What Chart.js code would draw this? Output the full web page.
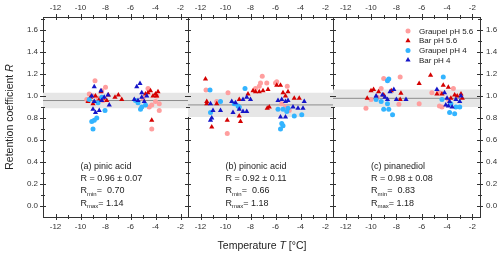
<!DOCTYPE html>
<html>
<head>
<meta charset="utf-8">
<script src="https://cdn.jsdelivr.net/npm/chart.js@4.4.1/dist/chart.umd.min.js"></script>
<style>
  html, body { margin: 0; padding: 0; background: #fff; }
  #wrap { position: relative; width: 500px; height: 258px; }
  #wrap canvas { position: absolute; left: 0; top: 0; }
</style>
</head>
<body>
<div id="wrap">
  <canvas id="c0" width="500" height="258"></canvas>
  <canvas id="c1" width="500" height="258"></canvas>
  <canvas id="c2" width="500" height="258"></canvas>
</div>
<script>
// panel info
const panelNames = ["(a) pinic acid", "(b) pinonic acid", "(c) pinanediol"];
const meanR = [0.96, 0.92, 0.98];
const sdR = [0.07, 0.11, 0.08];
const minR = ["0.70", "0.66", "0.83"];
const maxR = ["1.14", "1.18", "1.18"];
const seriesLabels = ["Graupel pH 5.6", "Bar pH 5.6", "Graupel pH 4", "Bar pH 4"];
const xTicks = [-12, -10, -8, -6, -4, -2];
const yTicks = [0, 0.2, 0.4, 0.6, 0.8, 1.0, 1.2, 1.4, 1.6];

// [T, R]
const pinicGraupel56 = [[-8.84,1.14],[-8.0,1.08],[-9.3,1.02],[-9.0,1.0],[-8.6,0.98],[-8.2,0.96],[-9.5,0.97],[-8.3,1.05],
  [-4.6,1.07],[-4.3,0.92],[-4.0,0.95],[-3.7,0.93],[-3.7,0.87],[-4.5,0.90],[-4.3,0.70],[-5.0,0.98],[-3.9,1.0]];
const pinicBar56 = [[-9.4,0.95],[-9.2,0.99],[-8.8,1.0],[-8.5,0.97],[-8.2,0.98],[-7.77,1.01],[-7.9,0.96],[-8.36,1.04],[-9.0,0.93],
  [-7.24,0.99],[-6.97,1.01],[-6.7,0.97],[-4.6,1.03],[-4.4,1.05],[-4.2,1.0],[-4.0,1.02],[-3.8,1.04],[-3.9,1.0],[-4.3,0.78],[-4.8,1.02]];
const pinicGraupel4 = [[-9.1,0.77],[-8.9,0.78],[-8.7,0.80],[-9.0,0.70],[-8.04,0.87],[-8.6,0.94],[-9.3,0.97],[-8.3,0.99],
  [-5.4,0.94],[-5.1,0.90],[-4.8,0.92],[-5.2,0.88],[-5.6,0.96]];
const pinicBar4 = [[-8.9,1.085],[-8.36,1.05],[-8.9,0.95],[-8.1,0.99],[-7.8,1.01],[-7.7,0.92],[-9.0,0.88],[-8.8,0.85],[-8.5,0.87],
  [-9.1,1.0],[-8.3,0.96],[-5.24,1.115],[-5.5,1.085],[-5.1,1.03],[-4.7,1.0],[-5.7,0.97],[-5.4,0.96],[-5.1,0.99],[-4.9,0.95]];

const pinonicGraupel56 = [[-11.56,1.055],[-10.7,0.95],[-9.8,1.03],[-9.86,0.66],[-7.06,1.18],[-6.7,1.12],[-6.0,1.12],[-5.9,1.13],
  [-5.06,1.09],[-7.6,1.07],[-7.3,1.09],[-7.2,1.12],[-5.2,0.90],[-4.9,0.87],[-5.5,0.93]];
const pinonicBar56 = [[-11.6,1.155],[-11.5,0.95],[-11.5,0.93],[-10.7,0.93],[-11.1,0.72],[-9.86,0.78],[-8.8,0.77],[-8.9,0.82],
  [-8.2,1.02],[-7.8,1.05],[-7.6,1.04],[-7.3,1.04],[-7.0,1.05],[-6.6,1.06],[-5.9,1.1],[-5.6,1.1],[-6.5,0.90],[-6.66,0.89],
  [-5.4,1.03],[-5.0,1.04],[-4.5,0.98],[-4.1,0.98],[-5.2,1.0],[-8.9,0.97]];
const pinonicGraupel4 = [[-11.24,1.055],[-10.4,0.95],[-11.2,0.85],[-9.3,0.93],[-9.0,0.91],[-8.44,1.07],[-8.9,0.90],[-5.8,0.88],
  [-5.4,0.88],[-5.0,0.89],[-4.5,0.82],[-3.9,0.83],[-5.6,0.70],[-5.5,0.75],[-5.4,0.73],[-5.1,0.86]];
const pinonicBar4 = [[-11.2,0.93],[-11.0,0.87],[-10.4,0.87],[-9.5,0.95],[-8.3,0.99],[-8.6,0.97],[-9.4,0.85],[-8.9,0.88],
  [-8.6,0.86],[-8.3,0.86],[-11.2,0.78],[-11.1,0.80],[-8.0,0.97],[-5.8,0.96],[-5.5,0.97],[-5.2,0.95],[-5.0,0.96],[-4.6,0.90],
  [-4.2,0.89],[-3.7,0.95],[-3.8,0.89],[-5.6,0.81],[-5.2,0.81],[-9.2,0.94]];

const pinanGraupel56 = [[-9.0,1.16],[-7.7,1.175],[-10.4,0.89],[-10.0,0.97],[-9.5,0.99],[-7.8,0.925],[-6.2,0.93],[-5.2,1.03],
  [-4.6,1.03],[-3.5,1.07],[-4.6,0.91],[-4.4,0.90],[-3.9,0.97],[-9.2,1.07]];
const pinanBar56 = [[-10.0,1.05],[-9.8,1.06],[-10.3,0.98],[-9.4,1.04],[-9.0,1.01],[-8.4,1.05],[-7.64,1.025],[-7.7,0.97],
  [-6.2,1.115],[-5.3,1.19],[-4.3,1.1],[-3.9,1.08],[-4.8,1.02],[-4.4,1.02],[-3.4,1.01],[-3.2,1.0],[-2.9,1.02],[-3.7,0.98],
  [-9.6,0.99],[-2.8,0.98]];
const pinanGraupel4 = [[-8.7,1.14],[-8.6,1.155],[-9.6,0.97],[-9.2,0.95],[-8.7,0.93],[-9.0,0.88],[-8.6,0.88],[-8.3,0.83],
  [-4.3,1.175],[-3.7,0.93],[-3.3,0.90],[-3.8,0.85],[-3.4,0.84],[-3.0,0.90],[-4.4,0.97]];
const pinanBar4 = [[-9.6,1.0],[-9.1,1.01],[-8.5,1.04],[-8.2,1.06],[-8.7,0.97],[-8.0,0.97],[-7.24,0.97],[-8.9,0.99],
  [-4.8,1.06],[-4.2,1.03],[-4.0,0.98],[-3.8,0.95],[-3.3,0.97],[-3.0,0.95],[-3.9,0.91],[-3.6,0.90],[-4.1,0.92],[-2.9,1.0]];

const panelData = [
  [pinicGraupel56, pinicBar56, pinicGraupel4, pinicBar4],
  [pinonicGraupel56, pinonicBar56, pinonicGraupel4, pinonicBar4],
  [pinanGraupel56, pinanBar56, pinanGraupel4, pinanBar4]
];

const X_MIN = -13, X_MAX = -1.4, Y_MIN = -0.1, Y_MAX = 1.72;

// looks
const AX = "#333";
const FONT = "'Liberation Sans', Arial, sans-serif";
const colors = ["#ff9e9e", "#d40000", "#33b4ff", "#1515c8"];
const styles = ["circle", "triangle", "circle", "triangle"];
const radii = [2.5, 3, 2.5, 3];
const pads = [
  { left: 0, right: 312, top: 0, bottom: 0 },
  { left: 188, right: 167, top: 0, bottom: 0 },
  { left: 333, right: 0, top: 0, bottom: 0 }
];

function richWidth(ctx, parts) {
  let w = 0;
  for (const p of parts) { ctx.font = p[1]; w += ctx.measureText(p[0]).width; }
  return w;
}
function drawRich(ctx, parts, x, y) {
  let cx = x;
  for (const p of parts) {
    ctx.font = p[1];
    ctx.fillText(p[0], cx, y + (p[2] || 0));
    cx += ctx.measureText(p[0]).width;
  }
}

const frameTicks = {
  id: "frameTicks",
  afterDraw(chart) {
    const ctx = chart.ctx, a = chart.chartArea, sc = chart.scales;
    ctx.save();
    ctx.strokeStyle = AX;
    ctx.lineWidth = 1;
    ctx.beginPath();
    for (let v = -12; v <= -2; v++) {
      const len = v % 2 === 0 ? 3 : 2;
      const px = Math.round(sc.x.getPixelForValue(v)) + 0.5;
      ctx.moveTo(px, a.bottom - len); ctx.lineTo(px, a.bottom + len);
      ctx.moveTo(px, a.top - len); ctx.lineTo(px, a.top + len);
    }
    for (let k = 0; k <= 17; k++) {
      const len = k % 2 === 0 ? 3 : 2;
      const py = Math.round(sc.y.getPixelForValue(k / 10)) + 0.5;
      ctx.moveTo(a.left - len, py); ctx.lineTo(a.left + len, py);
      ctx.moveTo(a.right - len, py); ctx.lineTo(a.right + len, py);
    }
    ctx.stroke();
    ctx.restore();
  }
};

const textLayer = {
  id: "textLayer",
  afterDraw(chart) {
    const i = chart.options.plugins.textLayer.panel;
    const ctx = chart.ctx, a = chart.chartArea, sc = chart.scales;
    const f9 = "9px " + FONT, f6 = "6px " + FONT;
    ctx.save();
    ctx.fillStyle = "#222";
    ctx.textBaseline = "alphabetic";
    ctx.textAlign = "left";
    const tx = sc.x.getPixelForValue(-10);
    const y0 = 169;
    drawRich(ctx, [[panelNames[i], f9]], tx, y0);
    drawRich(ctx, [["R = " + meanR[i].toFixed(2) + " \u00b1 " + sdR[i].toFixed(2), f9]], tx, y0 + 12.2);
    drawRich(ctx, [["R", f9], ["min", f6, 2.5], ["=  " + minR[i], f9]], tx, y0 + 24.4);
    drawRich(ctx, [["R", f9], ["max", f6, 2.5], ["= " + maxR[i], f9]], tx, y0 + 36.6);

    if (i === 2) {
      const lx = a.left + 75, ly = 31;
      ctx.textBaseline = "middle";
      for (let s = 0; s < 4; s++) {
        const yy = ly + s * 9.7;
        ctx.fillStyle = colors[s];
        Chart.helpers.drawPoint(ctx, { pointStyle: styles[s], radius: radii[s], rotation: 0, borderWidth: 0 }, lx, yy);
        ctx.fillStyle = "#222";
        ctx.font = "8px " + FONT;
        ctx.fillText(seriesLabels[s], lx + 11, yy + 0.5);
      }
    }

    if (i === 0) {
      const f11 = "10.5px " + FONT, f11i = "italic 10.5px " + FONT;
      // y title
      const yParts = [["Retention coefficient ", f11], ["R", f11i]];
      ctx.save();
      ctx.translate(10, (a.top + a.bottom) / 2);
      ctx.rotate(-Math.PI / 2);
      ctx.textBaseline = "middle";
      drawRich(ctx, yParts, -richWidth(ctx, yParts) / 2, 0);
      ctx.restore();
      // x title
      const xParts = [["Temperature ", f11], ["T", f11i], [" [\u00b0C]", f11]];
      ctx.textBaseline = "middle";
      drawRich(ctx, xParts, 262 - richWidth(ctx, xParts) / 2, 246);
    }
    ctx.restore();
  }
};

function xAxis(pos, h, pad) {
  return {
    type: "linear", position: pos, min: X_MIN, max: X_MAX,
    afterBuildTicks: s => { s.ticks = xTicks.map(v => ({ value: v })); },
    afterFit: s => { s.height = h; },
    grid: { display: false, drawTicks: false },
    border: { display: true, color: AX, width: 1 },
    ticks: { color: "#333", font: { size: 8, family: FONT }, padding: pad, maxRotation: 0, autoSkip: false,
      callback: v => String(v) }
  };
}
function yAxis(pos, w, show, pad) {
  return {
    type: "linear", position: pos, min: Y_MIN, max: Y_MAX,
    afterBuildTicks: s => { s.ticks = yTicks.map(v => ({ value: v })); },
    afterFit: s => { s.width = w; },
    grid: { display: false, drawTicks: false },
    border: { display: true, color: AX, width: 1 },
    ticks: { display: show, color: "#333", font: { size: 8, family: FONT }, padding: pad, autoSkip: false,
      callback: v => v.toFixed(1) }
  };
}

function makeChart(i) {
  const m = meanR[i], s = sdR[i];
  const datasets = panelData[i].map((arr, k) => ({
    label: seriesLabels[k],
    data: arr.map(([x, y]) => ({ x, y })),
    pointStyle: styles[k],
    pointRadius: radii[k],
    backgroundColor: colors[k],
    borderColor: colors[k],
    borderWidth: 0,
    order: 4 - k
  }));
  datasets.push({
    type: "line", data: [{ x: X_MIN, y: m + s }, { x: X_MAX, y: m + s }],
    borderWidth: 0, pointRadius: 0, fill: { value: m - s }, backgroundColor: "#e6e6e6", order: 10
  });
  datasets.push({
    type: "line", data: [{ x: X_MIN, y: m }, { x: X_MAX, y: m }],
    borderColor: "#8c8c8c", borderWidth: 1, pointRadius: 0, fill: false, order: 9
  });

  new Chart(document.getElementById("c" + i), {
    type: "scatter",
    data: { datasets },
    options: {
      responsive: false,
      animation: false,
      events: [],
      layout: { padding: pads[i] },
      scales: {
        x: xAxis("bottom", 41, 5),
        xt: xAxis("top", 17, 4),
        y: yAxis("left", i === 0 ? 43 : 0, i === 0, 5),
        yr: yAxis("right", i === 2 ? 20 : 0, i === 2, 6)
      },
      plugins: {
        legend: { display: false },
        tooltip: { enabled: false },
        textLayer: { panel: i }
      }
    },
    plugins: [frameTicks, textLayer]
  });
}

makeChart(0);
makeChart(1);
makeChart(2);
</script>
</body>
</html>
